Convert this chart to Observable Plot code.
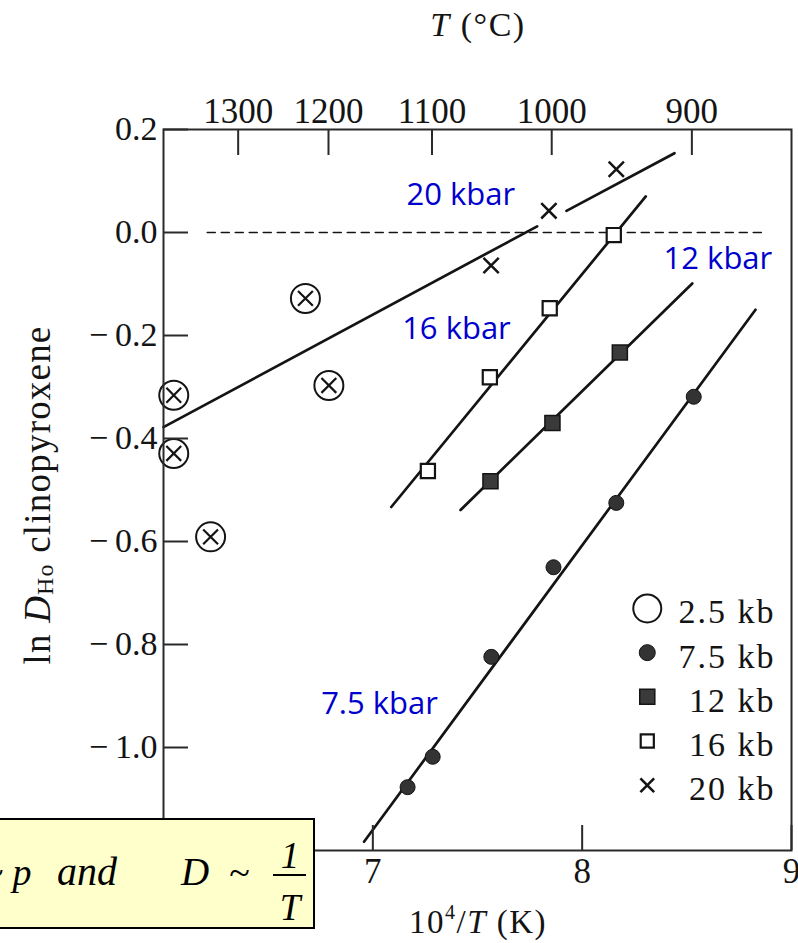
<!DOCTYPE html>
<html>
<head>
<meta charset="utf-8">
<script src="https://cdn.jsdelivr.net/npm/d3@7"></script>
<script src="https://cdn.jsdelivr.net/npm/@observablehq/plot@0.6"></script>
<style>
  html, body { margin: 0; padding: 0; background: #fff; overflow: hidden; }
  #chart { width: 798px; height: 943px; }
</style>
</head>
<body>
<div id="chart"></div>
<script>
// Holmium partitioning into clinopyroxene: ln D(Ho) against 10^4/T at five pressures.

const xTicks = [6, 7, 8, 9];
const xTickLabels = [7, 8, 9];
const yTicks = [0.2, 0.0, -0.2, -0.4, -0.6, -0.8, -1.0, -1.2];
const yTickLabels = [0.2, 0.0, -0.2, -0.4, -0.6, -0.8, -1.0];
const tempTicksC = [1300, 1200, 1100, 1000, 900];

// 2.5 kb experiments
const x25 = [6.049, 6.049, 6.225, 6.678, 6.790];
const y25 = [-0.316, -0.429, -0.591, -0.128, -0.297];
// 7.5 kb
const x75 = [7.166, 7.286, 7.566, 7.863, 8.163, 8.533];
const y75 = [-1.077, -1.018, -0.824, -0.650, -0.525, -0.319];
// 12 kb
const x12 = [7.562, 7.858, 8.180];
const y12 = [-0.483, -0.370, -0.233];
// 16 kb
const x16 = [7.263, 7.559, 7.845, 8.151];
const y16 = [-0.463, -0.281, -0.147, -0.005];
// 20 kb
const x20 = [7.565, 7.841, 8.163];
const y20 = [-0.064, 0.042, 0.123];

// Fitted trends (end points); the NaN leaves the 20 kb line open around its 1000 °C point
const fit20x = [6.0, 7.785, NaN, 7.925, 8.441];
const fit20y = [-0.378, 0.012, NaN, 0.042, 0.154];
const fit16x = [7.088, 8.304];
const fit16y = [-0.533, 0.070];
const fit12x = [7.419, 8.526];
const fit12y = [-0.539, -0.099];
const fit75x = [6.958, 8.828];
const fit75y = [-1.183, -0.150];

// dashed ln D = 0 guide
const guideX = [6.209, 8.860];
const guideY = [0, 0];

// pressure labels beside the trends
const lineLabels = ["20 kbar", "16 kbar", "12 kbar", "7.5 kbar"];
const lineLabelX = [7.161, 7.140, 8.389, 6.753];
const lineLabelY = [0.053, -0.207, -0.0715, -0.9355];

// legend entries
const legendLabels = ["2.5 kb", "7.5 kb", "12 kb", "16 kb", "20 kb"];

const W = 798, H = 943;
const M = {top: 129, right: 7, bottom: 93, left: 163};
const plotW = W - M.left - M.right;
const plotH = H - M.top - M.bottom;

const ink = "#141414";
const serif = "Liberation Serif";

const pts = (xs, ys) => xs.map((x, i) => ({x, y: ys[i]}));
const tempPos = tempTicksC.map(t => 1e4 / (t + 273.15));
const fmtY = d => (d < 0 ? "\u2212\u2009" : "") + Math.abs(d).toFixed(1);

// legend layout (in data units)
const legX = 8.311, legTextX = 8.924, legTop = -0.730, legStep = 0.0858;
const legRows = legendLabels.map((label, i) => ({label, x: legX, tx: legTextX, y: legTop - i * legStep}));

const p25 = pts(x25, y25), p75 = pts(x75, y75), p12 = pts(x12, y12), p16 = pts(x16, y16), p20 = pts(x20, y20);
const lineLbl = lineLabels.map((t, i) => ({t, x: lineLabelX[i], y: lineLabelY[i]}));

const sym25 = (data) => [
  Plot.dot(data, {x: "x", y: "y", r: 14.5, fill: "none", stroke: ink, strokeWidth: 2}),
  Plot.dot(data, {x: "x", y: "y", symbol: "times", r: 6.8, stroke: ink, strokeWidth: 2.2})
];

const chart = Plot.plot({
  width: W,
  height: H,
  marginTop: M.top,
  marginRight: M.right,
  marginBottom: M.bottom,
  marginLeft: M.left,
  x: {domain: [6, 9], axis: null},
  y: {domain: [-1.2, 0.2], axis: null},
  style: {background: "white", color: ink},
  marks: [
    Plot.line(pts(guideX, guideY), {x: "x", y: "y", stroke: ink, strokeWidth: 1.6, strokeDasharray: "8,6"}),

    Plot.line(pts(fit20x, fit20y), {x: "x", y: "y", stroke: ink, strokeWidth: 2.7}),
    Plot.line(pts(fit16x, fit16y), {x: "x", y: "y", stroke: ink, strokeWidth: 2.7}),
    Plot.line(pts(fit12x, fit12y), {x: "x", y: "y", stroke: ink, strokeWidth: 2.7}),
    Plot.line(pts(fit75x, fit75y), {x: "x", y: "y", stroke: ink, strokeWidth: 2.7}),

    ...sym25(p25),
    Plot.dot(p75, {x: "x", y: "y", r: 7.5, fill: "#333", stroke: ink, strokeWidth: 1}),
    Plot.dot(p12, {x: "x", y: "y", symbol: "square", r: 8.5, fill: "#3a3a3a", stroke: ink, strokeWidth: 1.5}),
    Plot.dot(p16, {x: "x", y: "y", symbol: "square", r: 8, fill: "white", stroke: ink, strokeWidth: 2.2}),
    Plot.dot(p20, {x: "x", y: "y", symbol: "times", r: 7, stroke: ink, strokeWidth: 2.5}),

    Plot.frame({stroke: "#2a2a2a", strokeWidth: 2}),

    // inward ticks
    Plot.tickY(yTicks, {y: d => d, stroke: "#2a2a2a", strokeWidth: 2, insetRight: plotW - 25}),
    Plot.tickX(tempPos, {x: d => d, stroke: "#2a2a2a", strokeWidth: 2, insetBottom: plotH - 26}),
    Plot.tickX(xTicks, {x: d => d, stroke: "#2a2a2a", strokeWidth: 2, insetTop: plotH - 25}),

    // tick labels
    Plot.axisY(yTickLabels, {anchor: "left", tickSize: 0, tickPadding: 6, tickFormat: fmtY, label: null,
      fontSize: 34, fontFamily: serif}),
    Plot.axisX(xTickLabels, {anchor: "bottom", tickSize: 0, tickPadding: 8, tickFormat: d => String(d), label: null,
      fontSize: 35, fontFamily: serif}),
    Plot.axisX(tempPos, {anchor: "top", tickSize: 0, tickPadding: 7,
      tickFormat: x => String(Math.round(1e4 / x - 273.15)), label: null,
      fontSize: 35, fontFamily: serif}),

    // pressure labels
    Plot.text(lineLbl, {x: "x", y: "y", text: "t", textAnchor: "start", lineAnchor: "bottom",
      fill: "#0000cc", fontSize: 31, fontFamily: "Open Sans"}),

    // legend
    Plot.dot([legRows[0]], {x: "x", y: "y", r: 14, fill: "none", stroke: ink, strokeWidth: 2}),
    Plot.dot([legRows[1]], {x: "x", y: "y", r: 8, fill: "#333", stroke: ink, strokeWidth: 1}),
    Plot.dot([legRows[2]], {x: "x", y: "y", symbol: "square", r: 8.5, fill: "#3a3a3a", stroke: ink, strokeWidth: 1.5}),
    Plot.dot([legRows[3]], {x: "x", y: "y", symbol: "square", r: 7.4, fill: "white", stroke: ink, strokeWidth: 2.2}),
    Plot.dot([legRows[4]], {x: "x", y: "y", symbol: "times", r: 6.3, stroke: ink, strokeWidth: 2.6}),
    Plot.text(legRows, {x: "tx", y: "y", text: "label", textAnchor: "end", lineAnchor: "middle", dy: 4,
      fill: ink, fontSize: 34, fontFamily: serif})
  ]
});

document.getElementById("chart").appendChild(chart);

const svg = d3.select(chart);

// widen the serif legend lettering a little
svg.selectAll("g[aria-label='text']").filter(function () {
  return this.getAttribute("font-family") === serif;
}).selectAll("text").attr("letter-spacing", "2px");

// axis titles
const titleTop = svg.append("text")
  .attr("x", 478).attr("y", 36)
  .attr("text-anchor", "middle")
  .attr("font-family", serif).attr("font-size", 34)
  .attr("fill", ink).attr("letter-spacing", "1.5px");
titleTop.append("tspan").attr("font-style", "italic").text("T");
titleTop.append("tspan").text(" (°C)");

const titleBottom = svg.append("text")
  .attr("x", 478).attr("y", 933)
  .attr("text-anchor", "middle")
  .attr("font-family", serif).attr("font-size", 33)
  .attr("fill", ink).attr("letter-spacing", "1.5px");
titleBottom.append("tspan").text("10");
titleBottom.append("tspan").attr("font-size", 20).attr("dy", -14).text("4");
titleBottom.append("tspan").attr("dy", 14).text("/");
titleBottom.append("tspan").attr("font-style", "italic").text("T");
titleBottom.append("tspan").text(" (K)");

const titleLeft = svg.append("text")
  .attr("transform", "translate(50,495) rotate(-90)")
  .attr("text-anchor", "middle")
  .attr("font-family", serif).attr("font-size", 37)
  .attr("fill", ink).attr("letter-spacing", "1.2px");
titleLeft.append("tspan").text("ln ");
titleLeft.append("tspan").attr("font-style", "italic").text("D");
titleLeft.append("tspan").attr("font-size", 24).attr("dy", 3).text("Ho");
titleLeft.append("tspan").attr("dy", -3).text(" clinopyroxene");

// proportionality note, boxed over the lower-left corner
const note = svg.append("g").attr("font-family", serif).attr("font-style", "italic").attr("fill", "#000");
note.append("rect")
  .attr("x", -220).attr("y", 819).attr("width", 534).attr("height", 109)
  .attr("fill", "#ffffcc").attr("stroke", "#000").attr("stroke-width", 2);
note.append("text").attr("x", 3).attr("y", 885).attr("text-anchor", "end").attr("font-size", 38).text("D ~");
note.append("text").attr("x", 22).attr("y", 885).attr("font-size", 38).text("p");
note.append("text").attr("x", 87).attr("y", 885).attr("font-size", 40).text("and");
note.append("text").attr("x", 195).attr("y", 885).attr("font-size", 39).text("D");
note.append("text").attr("x", 239).attr("y", 885).attr("font-size", 38).text("~");
note.append("text").attr("x", 290).attr("y", 868).attr("text-anchor", "middle").attr("font-size", 37).text("1");
note.append("line").attr("x1", 273).attr("x2", 306).attr("y1", 875).attr("y2", 875)
  .attr("stroke", "#000").attr("stroke-width", 2);
note.append("text").attr("x", 290).attr("y", 920).attr("text-anchor", "middle").attr("font-size", 37).text("T");
</script>
</body>
</html>
